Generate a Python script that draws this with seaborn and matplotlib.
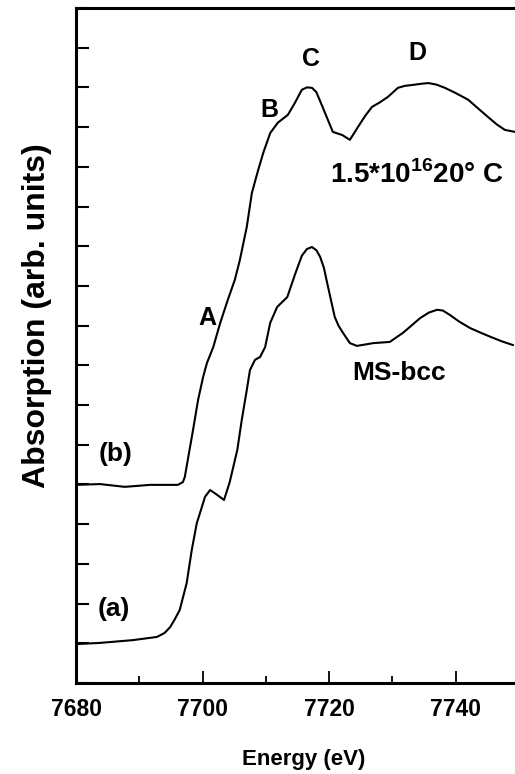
import numpy as np
import pandas as pd
import matplotlib
matplotlib.use('Agg')
import matplotlib.pyplot as plt
import seaborn as sns

# Energy (eV) and absorption (arb. units)
energy_b = [7680.0, 7683.8, 7687.7, 7691.7, 7696.1, 7696.9, 7697.2, 7698.5, 7699.3,
            7700.1, 7700.7, 7701.7, 7702.8, 7704.0, 7705.1, 7705.9, 7707.0, 7707.8,
            7708.8, 7709.6, 7710.7, 7711.9, 7713.5, 7714.6, 7715.7, 7716.5, 7717.3,
            7718.0, 7719.0, 7720.6, 7722.1, 7723.3, 7724.6, 7725.7, 7726.8, 7728.0,
            7729.3, 7730.9, 7732.0, 7733.1, 7734.5, 7735.7, 7737.0, 7738.3, 7740.0,
            7742.0, 7743.5, 7745.1, 7746.5, 7747.8, 7749.4]
absorb_b = [4.99, 5.01, 4.94, 4.99, 4.99, 5.06, 5.19, 6.37, 7.13,
            7.71, 8.06, 8.46, 9.07, 9.65, 10.15, 10.65, 11.49, 12.34,
            12.92, 13.35, 13.85, 14.11, 14.31, 14.61, 14.94, 15.00, 14.99,
            14.88, 14.50, 13.88, 13.80, 13.68, 14.01, 14.28, 14.51, 14.62,
            14.76, 14.99, 15.04, 15.06, 15.09, 15.11, 15.07, 14.99, 14.86,
            14.69, 14.48, 14.26, 14.07, 13.93, 13.88]

energy_a = [7680.0, 7683.8, 7689.0, 7692.8, 7694.0, 7694.9, 7695.6, 7696.4, 7697.5,
            7698.3, 7699.1, 7699.6, 7700.4, 7701.2, 7702.3, 7703.4, 7704.3, 7705.5,
            7706.2, 7707.0, 7707.5, 7708.3, 7709.1, 7709.9, 7710.7, 7711.8, 7713.4,
            7714.6, 7715.7, 7716.5, 7717.3, 7718.0, 7718.6, 7719.2, 7719.7, 7720.9,
            7721.5, 7722.2, 7723.3, 7724.4, 7727.0, 7729.6, 7731.7, 7734.4, 7735.8,
            7737.1, 7738.0, 7739.1, 7740.6, 7742.3, 7744.0, 7745.5, 7747.4, 7749.1]
absorb_a = [0.98, 1.01, 1.08, 1.16, 1.26, 1.41, 1.60, 1.84, 2.52,
            3.35, 4.03, 4.28, 4.69, 4.86, 4.74, 4.61, 5.06, 5.87,
            6.62, 7.38, 7.88, 8.14, 8.21, 8.46, 9.07, 9.47, 9.72,
            10.28, 10.76, 10.93, 10.98, 10.90, 10.73, 10.45, 10.08, 9.22,
            9.00, 8.82, 8.56, 8.49, 8.56, 8.59, 8.82, 9.19, 9.33,
            9.40, 9.38, 9.27, 9.10, 8.94, 8.82, 8.72, 8.60, 8.51]

x_ticks = [7680, 7700, 7720, 7740]
x_minor = [7690, 7710, 7730]
y_ticks = list(range(0, 18))

sns.set_style('ticks')
plt.rcParams['font.family'] = ['Liberation Sans', 'DejaVu Sans']
plt.rcParams['font.weight'] = 'bold'
plt.rcParams['text.color'] = 'black'
plt.rcParams['axes.labelcolor'] = 'black'
plt.rcParams['xtick.color'] = 'black'
plt.rcParams['ytick.color'] = 'black'
plt.rcParams['axes.edgecolor'] = 'black'
plt.rcParams['mathtext.fontset'] = 'custom'
plt.rcParams['mathtext.rm'] = 'Liberation Sans:bold'
plt.rcParams['mathtext.bf'] = 'Liberation Sans:bold'

fig = plt.figure(figsize=(5.15, 7.74), dpi=100)
ax = fig.add_axes([76 / 515, 91 / 774, 439 / 515, 675 / 774])

df_b = pd.DataFrame({'Energy': energy_b, 'Absorption': absorb_b})
df_a = pd.DataFrame({'Energy': energy_a, 'Absorption': absorb_a})
sns.lineplot(data=df_b, x='Energy', y='Absorption', color='black', linewidth=1.5,
             estimator=None, sort=False, ax=ax)
sns.lineplot(data=df_a, x='Energy', y='Absorption', color='black', linewidth=1.5,
             estimator=None, sort=False, ax=ax)

ax.set_xlim(7680, 7749.4)
ax.set_ylim(0, 17)
ax.set_xticks(x_ticks)
ax.set_xticks(x_minor, minor=True)
ax.set_yticks(y_ticks)
ax.set_yticklabels([])
ax.tick_params(axis='x', which='major', direction='in', length=9, width=1.3,
               labelsize=16.5, pad=11, colors='black')
ax.tick_params(axis='x', which='minor', direction='in', length=5, width=1.3)
ax.tick_params(axis='y', direction='in', length=9, width=1.5)
for lab in ax.get_xticklabels():
    lab.set_fontweight('bold')
for side in ['left', 'bottom', 'top']:
    ax.spines[side].set_linewidth(2.2)
    ax.spines[side].set_color('black')
ax.spines['right'].set_visible(False)
ax.set_xlabel('')
ax.set_ylabel('')

# Annotations
ax.text(7700.7, 9.19, 'A', fontsize=18, fontweight='bold', ha='center', va='center')
ax.text(7710.5, 14.43, 'B', fontsize=18, fontweight='bold', ha='center', va='center')
ax.text(7717.2, 15.72, 'C', fontsize=18, fontweight='bold', ha='center', va='center')
ax.text(7733.9, 15.87, 'D', fontsize=18, fontweight='bold', ha='center', va='center')
ax.text(7720.2, 12.8, r'1.5*10$^{\mathbf{16}}$20° C', fontsize=20, fontweight='bold',
        ha='left', va='center')
ax.text(7731.1, 7.81, 'MS-bcc', fontsize=19, fontweight='bold', ha='center', va='center')
ax.text(7686.2, 5.77, '(b)', fontsize=19, fontweight='bold', ha='center', va='center')
ax.text(7686.0, 1.86, '(a)', fontsize=19, fontweight='bold', ha='center', va='center')

fig.text(37 / 515, 1 - 316 / 774, 'Absorption (arb. units)', rotation=90,
         fontsize=23, fontweight='bold', ha='center', va='center')
fig.text(304 / 515, 1 - 760 / 774, 'Energy (eV)', fontsize=16, fontweight='bold',
         ha='center', va='center')

fig.savefig('out.png', dpi=100)
